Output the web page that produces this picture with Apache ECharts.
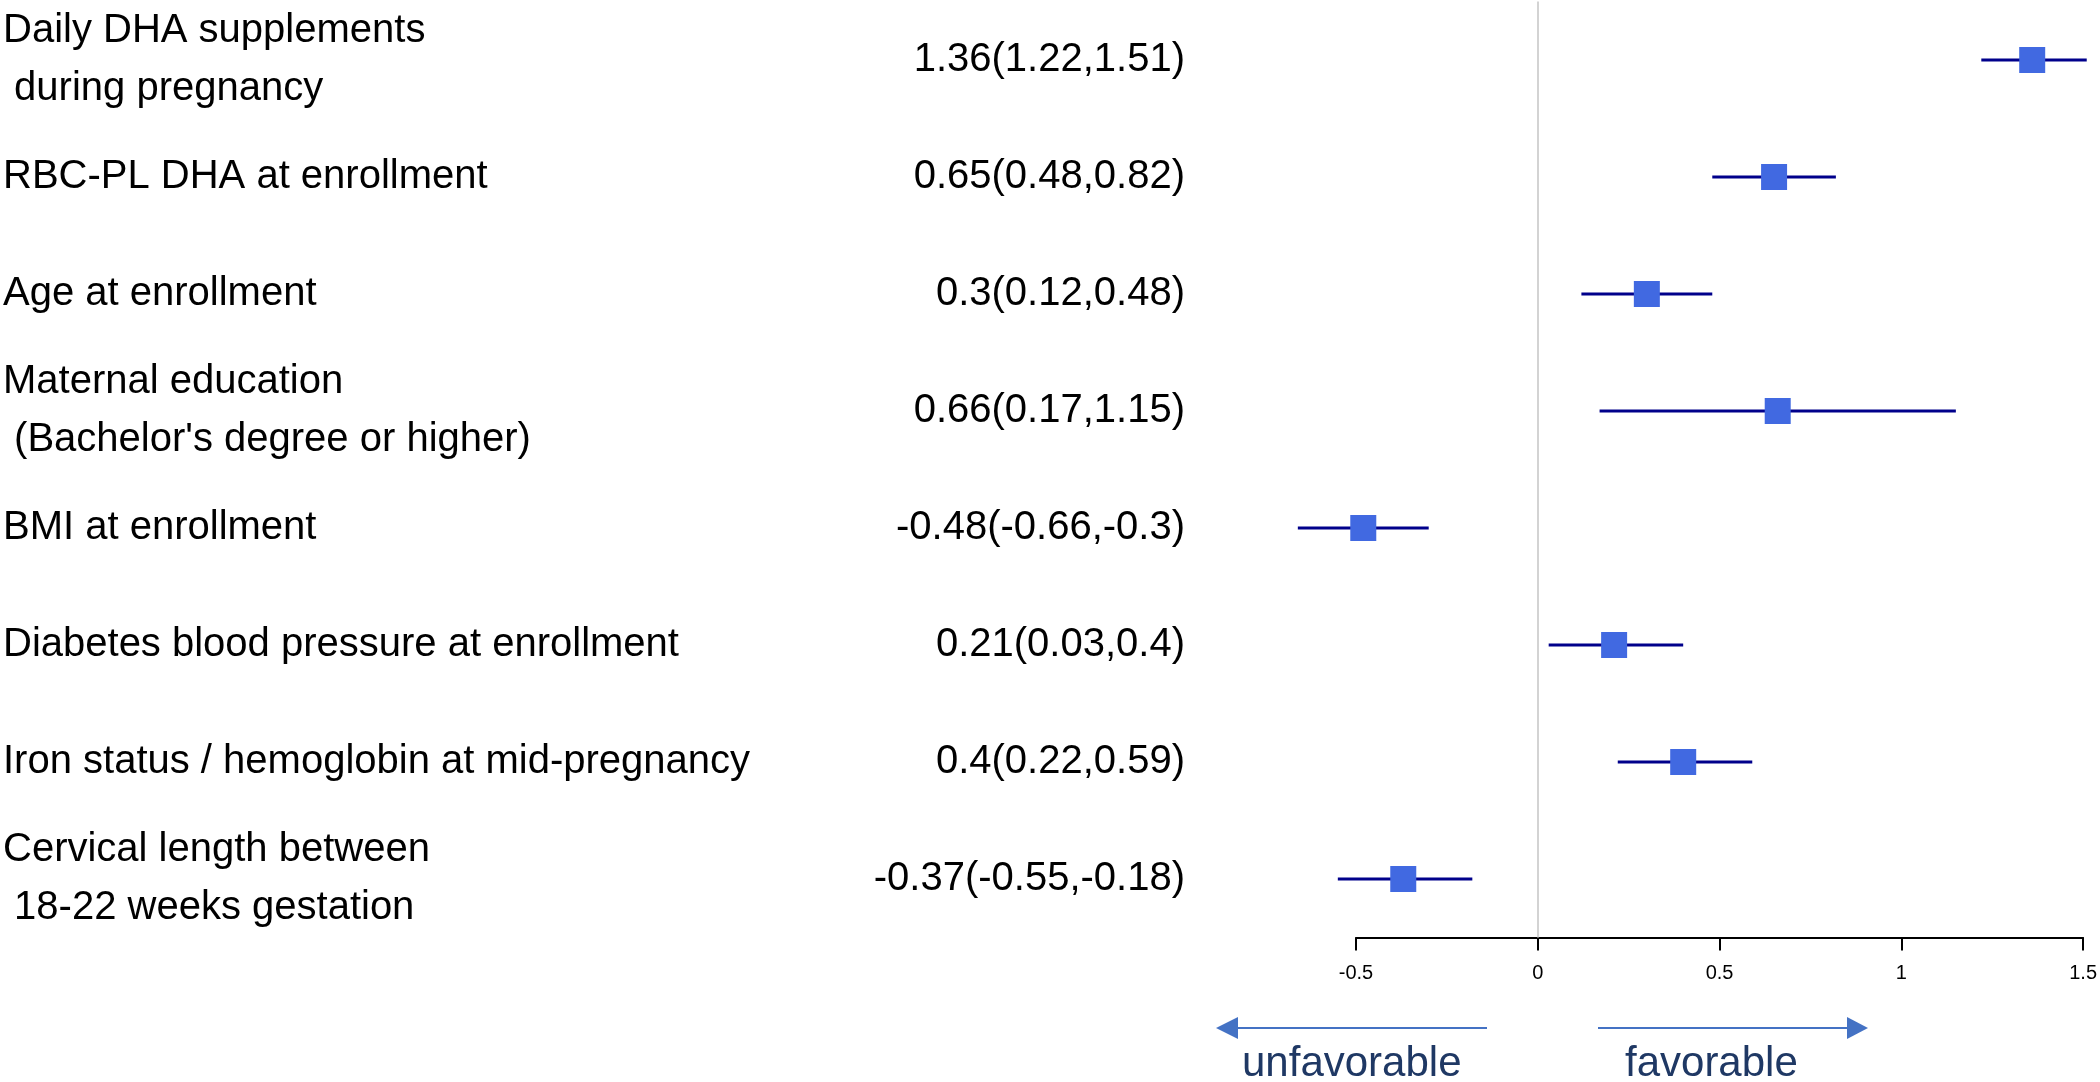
<!DOCTYPE html>
<html>
<head>
<meta charset="utf-8">
<script src="https://cdn.jsdelivr.net/npm/echarts@6/dist/echarts.min.js"></script>
<style>
  html, body { margin: 0; padding: 0; background: #ffffff; }
  #chart { width: 2100px; height: 1082px; }
</style>
</head>
<body>
<div id="chart"></div>
<script>
// ---- data ----
var categories = [
  "Daily DHA supplements\n during pregnancy",
  "RBC-PL DHA at enrollment",
  "Age at enrollment",
  "Maternal education\n (Bachelor's degree or higher)",
  "BMI at enrollment",
  "Diabetes blood pressure at enrollment",
  "Iron status / hemoglobin at mid-pregnancy",
  "Cervical length between\n 18-22 weeks gestation"
];
var estimates = [1.36, 0.65, 0.3, 0.66, -0.48, 0.21, 0.4, -0.37];
var lowerCI   = [1.22, 0.48, 0.12, 0.17, -0.66, 0.03, 0.22, -0.55];
var upperCI   = [1.51, 0.82, 0.48, 1.15, -0.3, 0.4, 0.59, -0.18];
var xTicks    = [-0.5, 0, 0.5, 1, 1.5];
var directionLabels = ["unfavorable", "favorable"];

var ciLabels = estimates.map(function (e, i) {
  return String(e) + "(" + String(lowerCI[i]) + "," + String(upperCI[i]) + ")";
});

var FONT = "'Liberation Sans', Arial, sans-serif";
var chart = echarts.init(document.getElementById('chart'), null, { renderer: 'canvas' });

var option = {
  animation: false,
  backgroundColor: '#ffffff',
  grid: { left: 1356, right: 14, top: 1.5, bottom: 144.5, containLabel: false },
  xAxis: {
    type: 'value',
    min: xTicks[0],
    max: xTicks[xTicks.length - 1],
    interval: 0.5,
    splitLine: { show: false },
    axisLine: { show: true, lineStyle: { color: '#000000', width: 2 } },
    axisTick: { show: true, length: 13, lineStyle: { color: '#000000', width: 2 } },
    axisLabel: {
      show: true, fontSize: 20, color: '#000000', fontFamily: FONT, margin: 26,
      showMinLabel: true, showMaxLabel: true,
      formatter: function (v) { return String(Math.round(v * 10) / 10); }
    }
  },
  yAxis: [
    {
      type: 'category',
      data: categories,
      inverse: true,
      position: 'left',
      axisLine: { show: false },
      axisTick: { show: false },
      splitLine: { show: false },
      axisLabel: {
        interval: 0, align: 'left', margin: 1353,
        fontSize: 40, lineHeight: 58, color: '#000000', fontFamily: FONT
      }
    },
    {
      type: 'category',
      data: categories,
      inverse: true,
      position: 'left',
      axisLine: { show: false },
      axisTick: { show: false },
      splitLine: { show: false },
      axisLabel: {
        interval: 0, align: 'right', margin: 171,
        fontSize: 40, color: '#000000', fontFamily: FONT,
        formatter: function (v, idx) { return ciLabels[idx]; }
      }
    }
  ],
  series: [
    {
      name: 'ref',
      type: 'line',
      data: [],
      z: 1,
      markLine: {
        silent: true,
        symbol: ['none', 'none'],
        label: { show: false },
        lineStyle: { color: '#d3d3d3', width: 2, type: 'solid' },
        data: [{ xAxis: 0 }]
      }
    },
    {
      name: 'CI',
      type: 'custom',
      z: 2,
      clip: false,
      data: categories.map(function (c, i) { return [lowerCI[i], upperCI[i], i]; }),
      renderItem: function (params, api) {
        var p1 = api.coord([api.value(0), api.value(2)]);
        var p2 = api.coord([api.value(1), api.value(2)]);
        return {
          type: 'line',
          shape: { x1: p1[0], y1: p1[1], x2: p2[0], y2: p2[1] },
          style: { stroke: '#00008B', lineWidth: 3 }
        };
      },
      encode: { x: [0, 1], y: 2 }
    },
    {
      name: 'Estimate',
      type: 'scatter',
      z: 3,
      clip: false,
      symbol: 'rect',
      symbolSize: 26,
      itemStyle: { color: '#4169E1', opacity: 1 },
      data: categories.map(function (c, i) { return [estimates[i], i]; })
    }
  ],
  graphic: [
    // left arrow
    { type: 'line', shape: { x1: 1487, y1: 1028, x2: 1236, y2: 1028 }, style: { stroke: '#4472C4', lineWidth: 2 } },
    { type: 'polygon', shape: { points: [[1216, 1028], [1238, 1017], [1238, 1039]] }, style: { fill: '#4472C4' } },
    // right arrow
    { type: 'line', shape: { x1: 1598, y1: 1028, x2: 1849, y2: 1028 }, style: { stroke: '#4472C4', lineWidth: 2 } },
    { type: 'polygon', shape: { points: [[1868, 1028], [1847, 1017], [1847, 1039]] }, style: { fill: '#4472C4' } },
    { type: 'text', x: 1242, y: 1064, style: { text: directionLabels[0], fill: '#1F3864', font: "42px 'Liberation Sans', Arial, sans-serif", verticalAlign: 'middle', align: 'left' } },
    { type: 'text', x: 1625, y: 1064, style: { text: directionLabels[1], fill: '#1F3864', font: "42px 'Liberation Sans', Arial, sans-serif", verticalAlign: 'middle', align: 'left' } }
  ]
};

chart.setOption(option);
</script>
</body>
</html>
